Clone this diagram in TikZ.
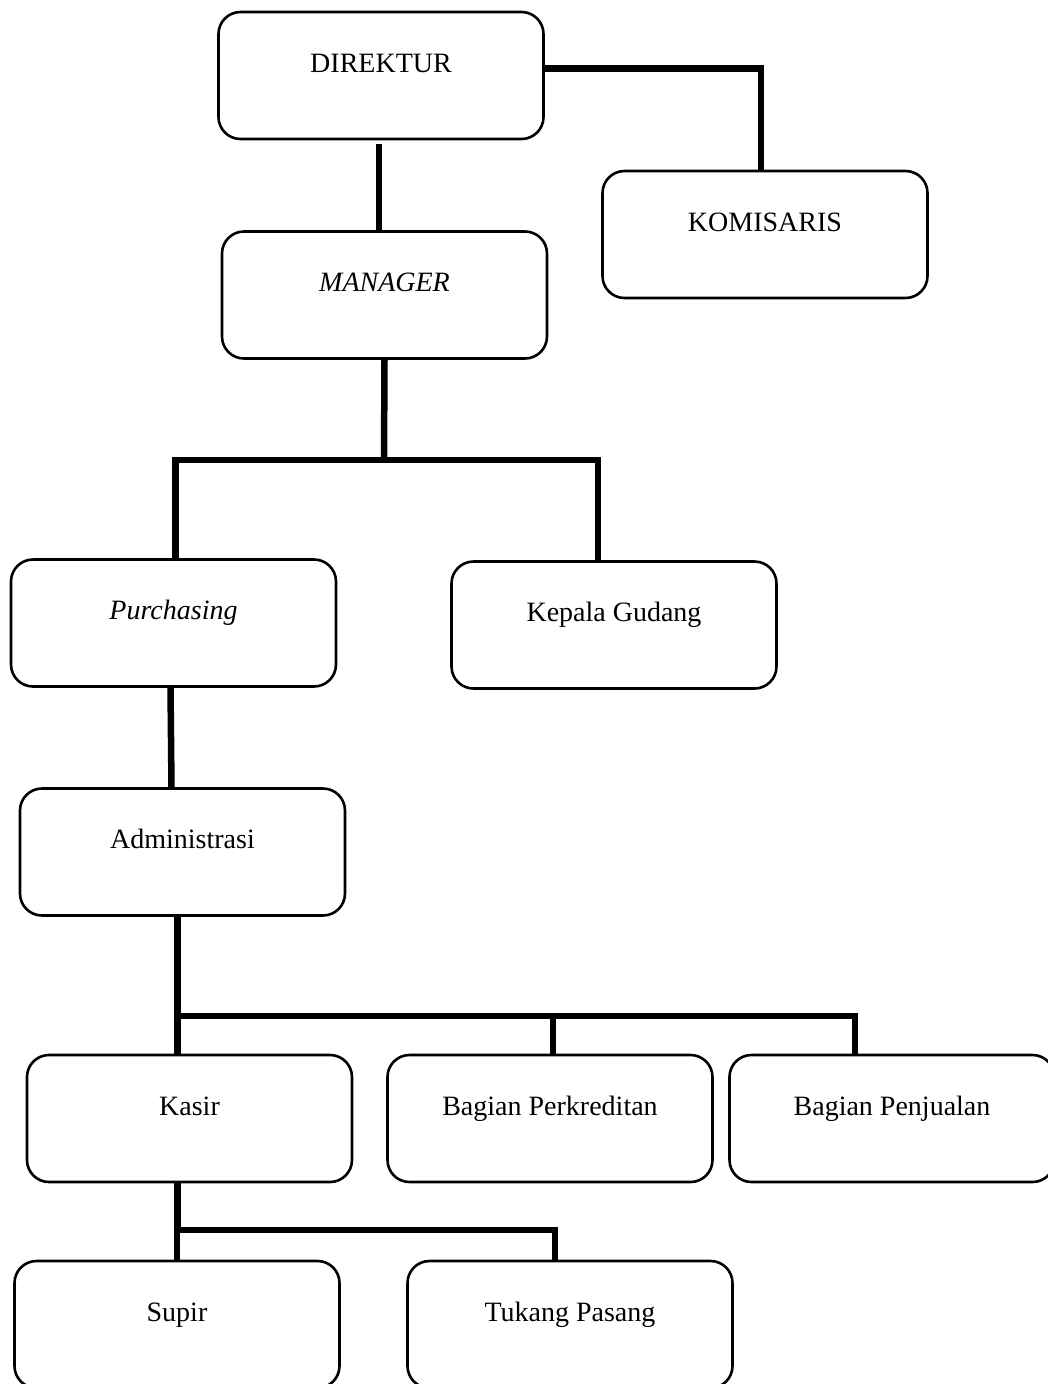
\documentclass[tikz,border=0pt]{standalone}
\usepackage{fontspec}
\setmainfont{Liberation Serif}
\usepackage{tikz}
\tikzset{
  orgbox/.style={draw, fill=white, rectangle, rounded corners=22pt, line width=2.6pt,
    minimum width=325pt, inner sep=0pt, text height=60pt, text depth=67pt,
    font=\fontsize{28pt}{30pt}\selectfont},
  orglink/.style={draw, line width=6.5pt}
}

\begin{document}
\begin{tikzpicture}[x=1pt, y=-1pt]%
\useasboundingbox (0, 0) rectangle (1048, 1384);%
\node[orgbox] (dir) at (381, 75.5) {DIREKTUR};%
\node[orgbox] (kom) at (765, 234.5) {KOMISARIS};%
\node[orgbox] (man) at (384.5, 295) {\itshape MANAGER};%
\node[orgbox] (pur) at (173.5, 623) {\itshape Purchasing};%
\node[orgbox] (kep) at (614, 625) {Kepala Gudang};%
\node[orgbox] (adm) at (182.5, 852) {Administrasi};%
\node[orgbox] (kas) at (189.5, 1118.5) {Kasir};%
\node[orgbox] (kre) at (550, 1118.5) {Bagian Perkreditan};%
\node[orgbox] (jua) at (892, 1118.5) {Bagian Penjualan};%
\node[orgbox] (sup) at (177, 1324.5) {Supir};%
\node[orgbox] (tuk) at (570, 1324.5) {Tukang Pasang};%
\coordinate (jman) at (384, 460);%
\coordinate (jadm) at (177.5, 1016);%
\coordinate (jkas) at (177.5, 1230);%
\draw[orglink] ([yshift=7pt]dir.east) -| ([xshift=-4pt]kom.north);%
\draw[orglink] ([xshift=-2pt, yshift=-4pt]dir.south) -- ([xshift=-2pt]dir.south |- man.north);%
\draw[orglink] (man.south) -- (jman);%
\draw[orglink] ([xshift=2pt]pur.north) |- (jman) -| ([xshift=-16pt]kep.north);%
\draw[orglink] ([xshift=-3pt]pur.south) -- ([xshift=-11pt]adm.north);%
\draw[orglink] ([xshift=-5pt]adm.south) -- (jadm);%
\draw[orglink] ([xshift=-12pt]kas.north) -- (jadm) -| ([xshift=-37pt]jua.north);%
\draw[orglink] ([xshift=3pt]kre.north) -- ([xshift=3pt]kre.north |- jadm);%
\draw[orglink] ([xshift=-12pt]kas.south) -- (jkas);%
\draw[orglink] (sup.north) |- (jkas) -| ([xshift=-15pt]tuk.north);%
\end{tikzpicture}
\end{document}
